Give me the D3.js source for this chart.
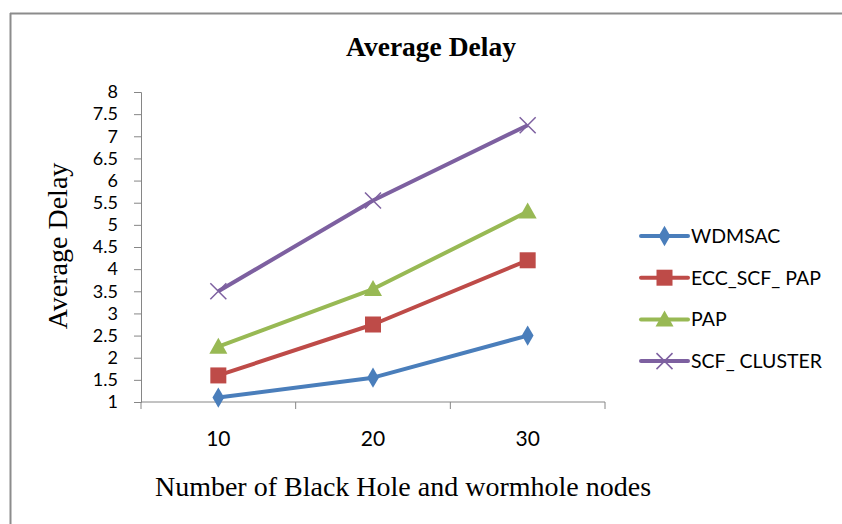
<!DOCTYPE html>
<html>
<head>
<meta charset="utf-8">
<script src="https://cdn.jsdelivr.net/npm/d3@7"></script>
<style>
  body { margin: 0; background: #fff; }
  svg { display: block; }
</style>
</head>
<body>
<div id="chart"></div>
<script>
const categories = ["10", "20", "30"];
const seriesNames = ["WDMSAC", "ECC_SCF_ PAP", "PAP", "SCF_ CLUSTER"];
const wdmsac = [1.1, 1.55, 2.5];
const eccScfPap = [1.6, 2.75, 4.2];
const pap = [2.25, 3.55, 5.3];
const scfCluster = [3.5, 5.55, 7.25];
const yTicks = [1, 1.5, 2, 2.5, 3, 3.5, 4, 4.5, 5, 5.5, 6, 6.5, 7, 7.5, 8];

const colors = ["#4a7ebb", "#be4b48", "#98b954", "#7d60a0"];
const markers = ["diamond", "square", "triangle", "cross"];
const series = [wdmsac, eccScfPap, pap, scfCluster].map((values, i) => ({
  name: seriesNames[i], values, color: colors[i], marker: markers[i]
}));

const width = 842, height = 524;
const plot = { left: 141, right: 605, top: 92, bottom: 402 };

const svg = d3.select("#chart").append("svg")
  .attr("width", width).attr("height", height);

// outer frame (left and top edges visible)
svg.append("line").attr("x1", 10.5).attr("x2", 10.5).attr("y1", 13).attr("y2", height)
  .attr("stroke", "#8c8c8c").attr("stroke-width", 2);
svg.append("line").attr("x1", 10).attr("x2", width).attr("y1", 13.5).attr("y2", 13.5)
  .attr("stroke", "#8c8c8c").attr("stroke-width", 2);

const x = d3.scaleBand().domain(categories).range([plot.left, plot.right]);
const y = d3.scaleLinear().domain([1, 8]).range([plot.bottom, plot.top]);

const sans = "Lato, 'Open Sans', sans-serif";
const serif = "'Liberation Serif', 'Times New Roman', serif";
const yTickFont = "18px";
const xTickFont = "21px";
const legendFont = "19.5px";

// y axis
const yAxis = svg.append("g")
  .attr("transform", `translate(${plot.left},0)`)
  .call(d3.axisLeft(y).tickValues(yTicks).tickSize(7).tickPadding(16)
    .tickFormat(d => String(d)));
yAxis.selectAll("text").style("font-family", sans).style("font-size", yTickFont).attr("fill", "#000");
yAxis.select(".domain").attr("stroke", "#868686");
yAxis.selectAll(".tick line").attr("stroke", "#868686");

// x axis with ticks at band boundaries
const xAxis = svg.append("g")
  .attr("transform", `translate(0,${plot.bottom})`);
xAxis.append("line").attr("x1", plot.left).attr("x2", plot.right)
  .attr("stroke", "#868686");
const boundaries = categories.map(c => x(c)).concat([x(categories[categories.length - 1]) + x.bandwidth()]);
xAxis.selectAll(".btick").data(boundaries).join("line")
  .attr("x1", d => d).attr("x2", d => d).attr("y1", 0).attr("y2", 7)
  .attr("stroke", "#868686");
xAxis.selectAll(".xlab").data(categories).join("text")
  .attr("x", d => x(d) + x.bandwidth() / 2)
  .attr("y", 44)
  .attr("text-anchor", "middle")
  .style("font-family", sans).style("font-size", xTickFont)
  .text(d => d);

// titles
svg.append("text").attr("x", 431).attr("y", 56).attr("text-anchor", "middle")
  .style("font-family", serif).style("font-weight", "bold").style("font-size", "27.5px")
  .text("Average Delay");
svg.append("text").attr("transform", "translate(67,246) rotate(-90)")
  .attr("text-anchor", "middle")
  .style("font-family", serif).style("font-size", "28px")
  .text("Average Delay");
svg.append("text").attr("x", 403).attr("y", 496).attr("text-anchor", "middle")
  .style("font-family", serif).style("font-size", "28px")
  .text("Number of Black Hole and wormhole nodes");

const cx = c => x(c) + x.bandwidth() / 2;
const line = d3.line().x((d, i) => cx(categories[i])).y(d => y(d));

function drawMarker(g, type, color) {
  if (type === "diamond") {
    g.append("path").attr("d", d3.symbol().type(d3.symbolDiamond).size(120)()).attr("fill", color);
  } else if (type === "square") {
    g.append("rect").attr("x", -8).attr("y", -8).attr("width", 16).attr("height", 16).attr("fill", color);
  } else if (type === "triangle") {
    g.append("path").attr("d", "M0,-9L9,7L-9,7Z").attr("fill", color);
  } else {
    g.append("path").attr("d", "M-8,-8L8,8M-8,8L8,-8").attr("stroke", color)
      .attr("stroke-width", 1.5).attr("fill", "none");
  }
}

series.forEach(s => {
  svg.append("path").datum(s.values).attr("d", line)
    .attr("fill", "none").attr("stroke", s.color).attr("stroke-width", 4)
    .attr("stroke-linejoin", "round");
  s.values.forEach((v, i) => {
    const g = svg.append("g").attr("transform", `translate(${cx(categories[i])},${y(v)})`);
    drawMarker(g, s.marker, s.color);
  });
});

// legend
const legend = svg.append("g").attr("transform", "translate(641,236)");
series.forEach((s, i) => {
  const row = legend.append("g").attr("transform", `translate(0,${i * 41.7})`);
  row.append("line").attr("x1", 0).attr("x2", 47).attr("stroke", s.color)
    .attr("stroke-width", 4).attr("stroke-linecap", "round");
  const m = row.append("g").attr("transform", "translate(23.5,0)");
  drawMarker(m, s.marker, s.color);
  row.append("text").attr("x", 50).attr("y", 7)
    .style("font-family", sans).style("font-size", legendFont)
    .text(s.name);
});
</script>
</body>
</html>
